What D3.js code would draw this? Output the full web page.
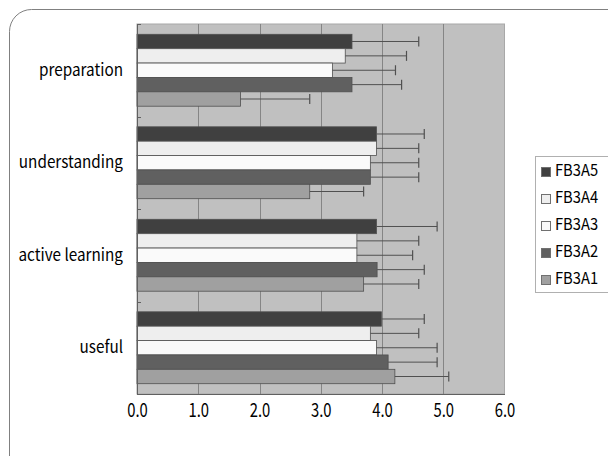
<!DOCTYPE html>
<html>
<head>
<meta charset="utf-8">
<script src="https://cdn.jsdelivr.net/npm/d3@7"></script>
<style>
  html, body { margin: 0; padding: 0; background: #ffffff; }
  svg { display: block; }
  text { font-family: "Noto Sans CJK JP", "Noto Sans", sans-serif; fill: #000; }
</style>
</head>
<body>
<svg id="chart" width="608" height="456"></svg>
<script>
const categories = ["preparation", "understanding", "active learning", "useful"];
const seriesNames = ["FB3A5", "FB3A4", "FB3A3", "FB3A2", "FB3A1"];
const seriesColors = ["#404040", "#eeeeee", "#fafafa", "#606060", "#a0a0a0"];
// means per series, in category order
const meanFB3A5 = [3.51, 3.91, 3.91, 3.99];
const meanFB3A4 = [3.40, 3.91, 3.59, 3.81];
const meanFB3A3 = [3.19, 3.81, 3.59, 3.91];
const meanFB3A2 = [3.51, 3.81, 3.92, 4.10];
const meanFB3A1 = [1.69, 2.82, 3.70, 4.21];
// positive error (standard deviation)
const sdFB3A5 = [1.09, 0.78, 0.99, 0.70];
const sdFB3A4 = [1.00, 0.69, 1.01, 0.79];
const sdFB3A3 = [1.03, 0.79, 0.91, 0.99];
const sdFB3A2 = [0.81, 0.79, 0.77, 0.80];
const sdFB3A1 = [1.13, 0.88, 0.90, 0.88];
const xTicks = [0, 1, 2, 3, 4, 5, 6];

const means = [meanFB3A5, meanFB3A4, meanFB3A3, meanFB3A2, meanFB3A1];
const sds = [sdFB3A5, sdFB3A4, sdFB3A3, sdFB3A2, sdFB3A1];

const svg = d3.select("#chart");

// outer rounded frame
svg.append("rect")
  .attr("x", 9.5).attr("y", 9.5)
  .attr("width", 640).attr("height", 470)
  .attr("rx", 22).attr("ry", 22)
  .attr("fill", "#fff").attr("stroke", "#808080").attr("stroke-width", 1);

const plot = { left: 137, right: 504.5, top: 24, bottom: 394 };

const x = d3.scaleLinear().domain([0, 6]).range([plot.left, plot.right]);
const y = d3.scaleBand().domain(categories).range([plot.top, plot.bottom]).padding(0);
const yInner = d3.scaleBand().domain(seriesNames)
  .range([10.3, y.bandwidth() - 10.3]).padding(0);

// plot background
svg.append("rect")
  .attr("x", plot.left).attr("y", plot.top)
  .attr("width", plot.right - plot.left).attr("height", plot.bottom - plot.top)
  .attr("fill", "#c0c0c0").attr("stroke", "#a8a8a8");

// vertical gridlines
svg.append("g").selectAll("line")
  .data(xTicks.slice(1, -1))
  .join("line")
  .attr("x1", d => Math.round(x(d)) + 0.5).attr("x2", d => Math.round(x(d)) + 0.5)
  .attr("y1", plot.top).attr("y2", plot.bottom)
  .attr("stroke", "#858585").attr("stroke-width", 1);

// bars
const rows = [];
categories.forEach((c, ci) => {
  seriesNames.forEach((s, si) => {
    rows.push({ cat: c, series: s, color: seriesColors[si], v: means[si][ci], e: sds[si][ci] });
  });
});

const g = svg.append("g");
g.selectAll("rect.bar").data(rows).join("rect")
  .attr("class", "bar")
  .attr("x", x(0))
  .attr("y", d => y(d.cat) + yInner(d.series))
  .attr("width", d => x(d.v) - x(0))
  .attr("height", yInner.bandwidth())
  .attr("fill", d => d.color)
  .attr("stroke", "#505050").attr("stroke-width", 0.8);

// error bars (plus side only)
g.selectAll("line.err").data(rows).join("line")
  .attr("class", "err")
  .attr("x1", d => x(d.v)).attr("x2", d => x(d.v + d.e))
  .attr("y1", d => y(d.cat) + yInner(d.series) + yInner.bandwidth() / 2)
  .attr("y2", d => y(d.cat) + yInner(d.series) + yInner.bandwidth() / 2)
  .attr("stroke", "#505050").attr("stroke-width", 1);
g.selectAll("line.cap").data(rows).join("line")
  .attr("class", "cap")
  .attr("x1", d => x(d.v + d.e)).attr("x2", d => x(d.v + d.e))
  .attr("y1", d => y(d.cat) + yInner(d.series) + yInner.bandwidth() / 2 - 5)
  .attr("y2", d => y(d.cat) + yInner(d.series) + yInner.bandwidth() / 2 + 5)
  .attr("stroke", "#505050").attr("stroke-width", 1.2);

// y axis line and inward ticks at band boundaries
svg.append("line")
  .attr("x1", plot.left + 0.5).attr("x2", plot.left + 0.5)
  .attr("y1", plot.top).attr("y2", plot.bottom)
  .attr("stroke", "#606060");
const bounds = categories.map(c => y(c)).concat([plot.bottom]);
svg.append("g").selectAll("line").data(bounds).join("line")
  .attr("x1", plot.left).attr("x2", plot.left + 4)
  .attr("y1", d => Math.round(d) + 0.5).attr("y2", d => Math.round(d) + 0.5)
  .attr("stroke", "#606060");

// x axis
const xAxis = d3.axisBottom(x).tickValues(xTicks).tickFormat(d3.format(".1f")).tickSize(0).tickPadding(0);
const xg = svg.append("g").attr("transform", `translate(0,${plot.bottom})`).call(xAxis);
xg.select(".domain").attr("stroke", "#606060");
xg.selectAll("text").attr("dy", null).attr("y", 0).attr("dominant-baseline", "middle")
  .attr("transform", "translate(0,18) scale(0.78,1)")
  .style("font-size", "19px").style("font-family", null);

// category labels
const yAxis = d3.axisLeft(y).tickSize(0).tickPadding(0);
const yg = svg.append("g").attr("transform", `translate(${plot.left},0)`).call(yAxis);
yg.select(".domain").remove();
yg.selectAll("text").attr("x", 0)
  .attr("transform", "translate(-14,0) scale(0.9,1)")
  .style("font-size", "17px").style("font-family", null);

// legend
const legend = svg.append("g");
legend.append("rect")
  .attr("x", 535.5).attr("y", 156.5).attr("width", 100).attr("height", 136)
  .attr("fill", "#fff").attr("stroke", "#b0b0b0");
const ly = d3.scalePoint().domain(seriesNames).range([172, 280]);
const li = legend.selectAll("g.item").data(seriesNames.map((s, i) => ({ s, c: seriesColors[i] })))
  .join("g").attr("class", "item")
  .attr("transform", d => `translate(0,${ly(d.s)})`);
li.append("rect").attr("x", 541.5).attr("y", -4.5).attr("width", 9).attr("height", 9)
  .attr("fill", d => d.c).attr("stroke", "#707070");
li.append("text").attr("x", 0).attr("y", 0).attr("dominant-baseline", "middle")
  .attr("transform", "translate(555,0) scale(0.92,1)")
  .style("font-size", "16px").text(d => d.s);
</script>
</body>
</html>
